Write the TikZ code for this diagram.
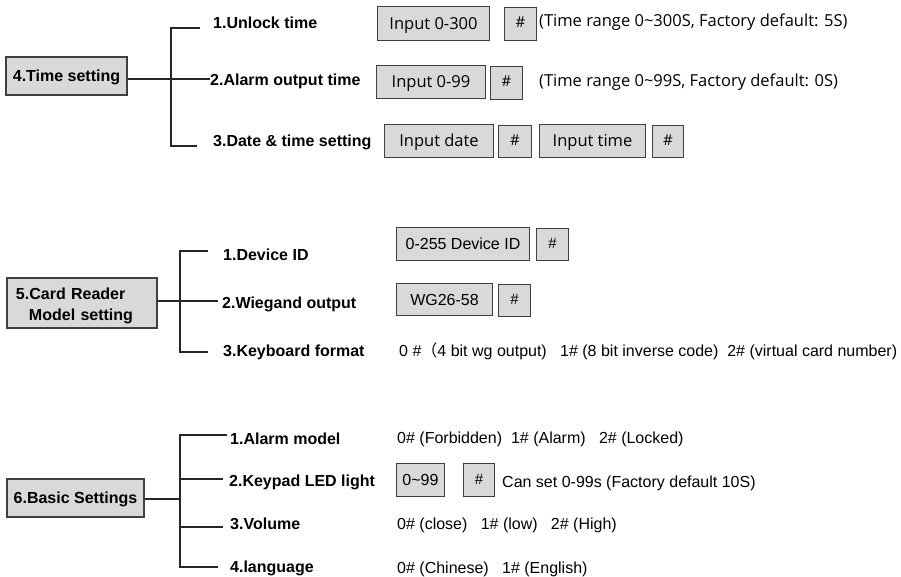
\documentclass[tikz,border=0pt]{standalone}
\usepackage{fontspec}
\setmainfont{Liberation Sans}
\newfontfamily\uifont{Open Sans}
\newfontfamily\cjk{Noto Sans CJK SC}
\usetikzlibrary{positioning}
\tikzset{
  sz/.style 2 args={minimum width=#1, minimum height=#2},
  menu/.style={
    draw=black!75, fill=black!15, line width=1.2pt,
    font=\bfseries\fontsize{16}{21}\selectfont,
    inner sep=0pt, text height=11.5pt, text depth=0pt
  },
  item/.style={
    anchor=base west, inner sep=0pt,
    font=\bfseries\fontsize{16}{19}\selectfont
  },
  inbox/.style={
    draw=black!75, fill=black!15, line width=1pt,
    anchor=north west, inner sep=0pt,
    text height=11.5pt, text depth=0pt,
    font=\fontsize{16}{19}\selectfont
  },
  uibox/.style={inbox, text height=11.8pt, font=\uifont\fontsize{16.5}{19}\selectfont},
  hash/.style={inbox, text height=8pt, font=\fontsize{15}{17}\selectfont},
  uihash/.style={hash, font=\uifont\fontsize{15}{17}\selectfont},
  note/.style={anchor=base west, inner sep=0pt, font=\fontsize{16}{19}\selectfont},
  uinote/.style={note, font=\uifont\fontsize{16.5}{19}\selectfont},
  branch/.style={line width=1.3pt, black!85}
}
\begin{document}
\begin{tikzpicture}[x=1pt,y=-1pt]
    \useasboundingbox (0,0) rectangle (901,577);

    % 4. time setting
    \node[menu, sz={121}{38}] (time) at (66.5,76) {4.Time setting};
    \node[item] (t1) at (213,28.5) {1.Unlock time};
    \node[item] (t2) at (210,86) {2.Alarm output time};
    \node[item] (t3) at (213,147) {3.Date \& time setting};
    \coordinate (t4-1) at (200,28);
    \coordinate (t4-2) at (210,79);
    \coordinate (t4-3) at (197,146);
    \draw[branch] (t4-1) -- ++(-29,0) |- (t4-3);
    \draw[branch] ([yshift=-3pt]time.east) -- (t4-2);
    \node[uibox, sz={112}{34}] (t1in) at (377,6) {Input 0-300};
    \node[uihash, sz={32}{33}] (t1ok) at (504,7) {\#};
    \node[uinote] (t1note) at (539,27) {(Time range 0\textasciitilde300S, Factory default: 5S)};
    \node[uibox, sz={109}{33}] (t2in) at (376,65) {Input 0-99};
    \node[uihash, sz={32}{33}] (t2ok) at (490,66) {\#};
    \node[uinote] (t2note) at (539,87) {(Time range 0\textasciitilde99S, Factory default: 0S)};
    \node[uibox, sz={109}{33}] (t3date) at (384,124) {Input date};
    \node[uihash, sz={33}{32}] (t3ok) at (498,125) {\#};
    \node[uibox, sz={106}{33}] (t3time) at (539,124) {Input time};
    \node[uihash, sz={31}{32}] (t3ok2) at (652,125) {\#};

    % 5. card reader
    \node[menu, sz={150}{50}, text height=16.5pt, text depth={}, align=left,
          text width=132pt, inner xsep=9pt] (reader) at (82,303)
          {5.Card Reader\\\hspace*{13pt}Model setting};
    \node[item] (r1) at (223,260.5) {1.Device ID};
    \node[item] (r2) at (222,308.5) {2.Wiegand output};
    \node[item] (r3) at (223,356.5) {3.Keyboard format};
    \coordinate (r5-1) at (208,251);
    \coordinate (r5-2) at (218,301);
    \coordinate (r5-3) at (208,352);
    \draw[branch] (r5-1) -- ++(-28,0) |- (r5-3);
    \draw[branch] ([yshift=2pt]reader.east) -- (r5-2);
    \node[inbox, sz={133}{33}] (r1in) at (396,227) {0-255 Device ID};
    \node[hash, sz={32}{32}] (r1ok) at (536,228) {\#};
    \node[inbox, sz={96}{32}] (r2in) at (396,283) {WG26-58};
    \node[hash, sz={32}{32}] (r2ok) at (498,284) {\#};
    \node[note] (r3note) at (399,356.5)
          {0 \#{\cjk （}4 bit wg output)\ \ \ 1\# (8 bit inverse code)\ \ 2\# (virtual card number)};

    % 6. basic settings
    \node[menu, sz={137}{38}] (basic) at (75.5,498) {6.Basic Settings};
    \node[item] (b1) at (230,444) {1.Alarm model};
    \node[item] (b2) at (229,486) {2.Keypad LED light};
    \node[item] (b3) at (230,529) {3.Volume};
    \node[item] (b4) at (230,572) {4.language};
    \coordinate (b6-1) at (227,435);
    \coordinate (b6-2) at (223,479);
    \coordinate (b6-3) at (223,527);
    \coordinate (b6-4) at (218,567);
    \draw[branch] (b6-1) -- ++(-47,0) |- (b6-4);
    \draw[branch] (b6-2) -- ++(-43,0);
    \draw[branch] (b6-3) -- ++(-43,0);
    \draw[branch] ([yshift=-1pt]basic.east) -- ++(36,0);
    \node[note] (b1note) at (397,443) {0\# (Forbidden)\ \ 1\# (Alarm)\ \ \ 2\# (Locked)};
    \node[inbox, sz={48}{33}] (b2in) at (396,463) {0\textasciitilde99};
    \node[hash, sz={31}{33}] (b2ok) at (463,463) {\#};
    \node[note] (b2note) at (502,487) {Can set 0-99s (Factory default 10S)};
    \node[note] (b3note) at (397,529) {0\# (close)\ \ \ 1\# (low)\ \ \ 2\# (High)};
    \node[note] (b4note) at (397,573) {0\# (Chinese)\ \ \ 1\# (English)};
\end{tikzpicture}
\end{document}
